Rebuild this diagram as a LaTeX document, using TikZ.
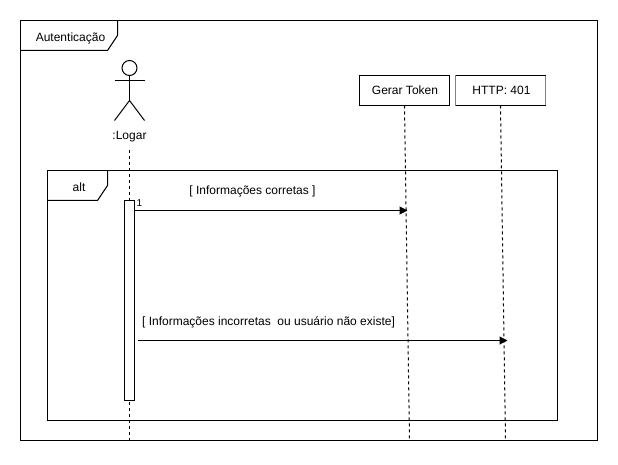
\documentclass[tikz,border=0pt]{standalone}
\usepackage{fontspec}
\setmainfont{Liberation Sans}
\usetikzlibrary{arrows.meta}
\tikzset{
  x=1pt,y=-1pt,
  every node/.style={font=\fontsize{12}{14}\selectfont,inner sep=0pt,outer sep=0pt},
  ln/.style={draw=black,line width=1pt},
  lifeline/.style={draw=black,line width=1pt,dash pattern=on 3pt off 3pt},
  box/.style={draw=black,line width=1pt,fill=white,minimum width=90pt,minimum height=30pt},
  msg/.style={draw=black,line width=1pt,-{Triangle[length=8pt,width=8pt]}},
  lbl/.style={anchor=base},
}
\begin{document}
\begin{tikzpicture}
\useasboundingbox (0,0) rectangle (618,465);
\fill[white] (0,0) rectangle (618,465);
% outer frame
\node[ln,minimum width=577pt,minimum height=420pt,anchor=north west] (outer) at (20.5,20.5) {};
\draw[ln] (117.5,20.5) -- (117.5,35.5) -- (107.5,50.5) -- (20.5,50.5);
\node[lbl] (outerlabel) at (70.5,41.5) {Autenticação};
% participants
\coordinate (logarTop) at (129.5,150);
\coordinate (logarEnd) at (129.5,440);
\node[box] (token) at (404.5,90.5) {\hspace*{1pt}Gerar Token};
\node[box,draw=gray,line width=1.5pt] (http) at (500.5,90.5) {\hspace*{2pt}HTTP: 401};
\draw[ln] (http.north west) -- (http.north east);
\draw[ln] (http.south west) -- (http.south east);
\coordinate (tokenEnd) at (409.5,440);
\coordinate (httpEnd) at (505.5,440);
% lifelines
\draw[lifeline] (logarTop) -- (logarEnd);
\draw[lifeline] (token.south) -- (tokenEnd);
\draw[lifeline] (http.south) -- (httpEnd);
% actor
\draw[ln] (129.5,68) circle (7.5);
\draw[ln] (129.5,75.5) -- (129.5,100.5);
\draw[ln] (114.5,80.5) -- (144.5,80.5);
\draw[ln] (114.5,120.5) -- (129.5,100.5) -- (144.5,120.5);
\node[lbl] (logar) at (129.5,139.5) {:Logar};
% alt frame
\node[ln,minimum width=510pt,minimum height=250pt,anchor=north west] (alt) at (47.5,170.5) {};
\draw[ln] (107.5,170.5) -- (107.5,185.5) -- (97.5,200.5) -- (47.5,200.5);
\node[lbl] (altlabel) at (79,192) {alt};
% activation
\node[ln,fill=white,minimum width=10pt,minimum height=200pt,anchor=north west] (act) at (124.5,200.5) {};
\node[lbl] (one) at (139.5,206) {\fontsize{10}{12}\selectfont 1};
% messages
\coordinate (m1s) at (134.5,210.5);
\coordinate (m1e) at (407.5,210.5);
\coordinate (m2s) at (138,340.5);
\coordinate (m2e) at (507.5,340.5);
\draw[msg] (m1s) -- (m1e);
\draw[msg] (m2s) -- (m2e);
\node[lbl] (m1l) at (252.5,195) {[ Informações corretas ]};
\node[lbl] (m2l) at (268.5,325) {[ Informações incorretas\ \ ou usuário não existe]};
\end{tikzpicture}
\end{document}
